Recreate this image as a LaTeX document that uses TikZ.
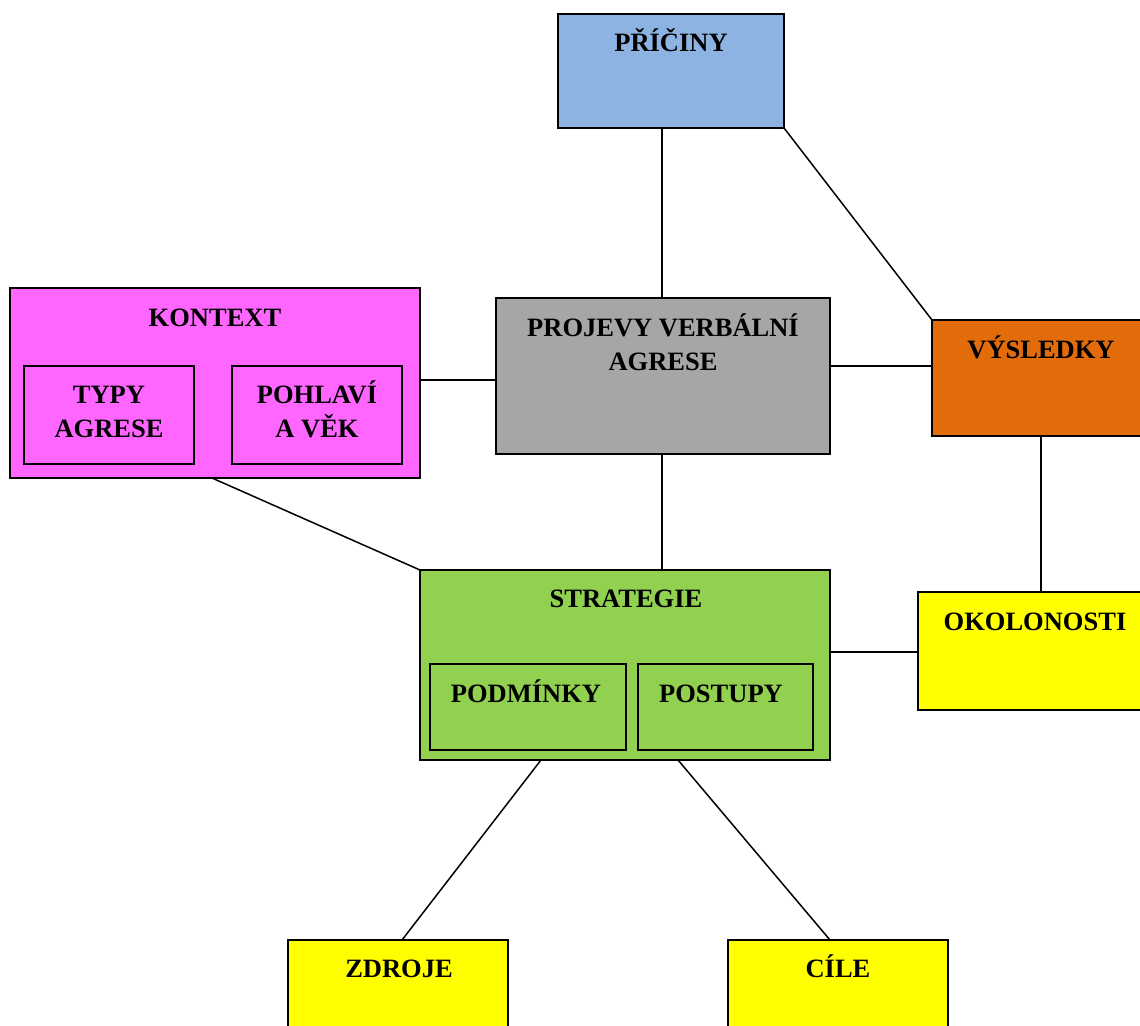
\documentclass[tikz,border=0pt]{standalone}
\usepackage{fontspec}
\setmainfont{Liberation Serif}
\definecolor{cblue}{HTML}{8DB3E2}
\definecolor{cgray}{HTML}{A6A6A6}
\definecolor{cpink}{HTML}{FF66FF}
\definecolor{corange}{HTML}{E36C0A}
\definecolor{cgreen}{HTML}{92D050}
\definecolor{cyellow}{HTML}{FFFF00}
\begin{document}
\begin{tikzpicture}[x=1pt,y=-1pt,
  box/.style={draw=black,line width=1.5pt,anchor=north west,inner sep=0pt,outer sep=0pt},
  lbl/.style={anchor=base,align=center,inner sep=0pt,font=\bfseries\fontsize{26.5}{34}\selectfont},
  conn/.style={line width=1.5pt}]
\useasboundingbox (0,0) rectangle (1140,1025);
\clip (0,0) rectangle (1140,1025);
% boxes
\node[box,fill=cblue,minimum width=226pt,minimum height=114pt] (pric) at (558,14) {};
\node[box,fill=cgray,minimum width=334pt,minimum height=156pt] (proj) at (496,298) {};
\node[box,fill=cpink,minimum width=410pt,minimum height=190pt] (kont) at (10,288) {};
\node[box,fill=cpink,minimum width=170pt,minimum height=98pt] (typy) at (24,366) {};
\node[box,fill=cpink,minimum width=170pt,minimum height=98pt] (pohl) at (232,366) {};
\node[box,fill=corange,minimum width=218pt,minimum height=116pt] (vysl) at (932,320) {};
\node[box,fill=cyellow,minimum width=234pt,minimum height=118pt] (okol) at (918,592) {};
\node[box,fill=cgreen,minimum width=410pt,minimum height=190pt] (strat) at (420,570) {};
\node[box,fill=cgreen,minimum width=196pt,minimum height=86pt] (podm) at (430,664) {};
\node[box,fill=cgreen,minimum width=175pt,minimum height=86pt] (post) at (638,664) {};
\node[box,fill=cyellow,minimum width=220pt,minimum height=110pt] (zdro) at (288,940) {};
\node[box,fill=cyellow,minimum width=220pt,minimum height=110pt] (cile) at (728,940) {};
% labels (multi-line labels are placed at the baseline of their last line)
\node[lbl] (pricT) at (671,52) {PŘÍČINY};
\node[lbl] (projT) at (663,370) {PROJEVY VERBÁLNÍ\\AGRESE};
\node[lbl] (kontT) at (215,326) {KONTEXT};
\node[lbl] (typyT) at (109,437) {TYPY\\AGRESE};
\node[lbl] (pohlT) at (317,437) {POHLAVÍ\\A VĚK};
\node[lbl] (vyslT) at (1041,358) {VÝSLEDKY};
\node[lbl] (okolT) at (1035,630) {OKOLONOSTI};
\node[lbl] (stratT) at (626,607) {STRATEGIE};
\node[lbl] (podmT) at (526,702) {PODMÍNKY};
\node[lbl] (postT) at (721,702) {POSTUPY};
\node[lbl] (zdroT) at (399,977) {ZDROJE};
\node[lbl] (cileT) at (838,977) {CÍLE};
% connectors
\draw[conn] (pric.south -| 662,0) -- (proj.north -| 662,0);
\draw[conn] (pric.south east) -- (vysl.north west);
\draw[conn] (kont.east |- 0,380) -- (proj.west |- 0,380);
\draw[conn] (proj.east |- 0,366) -- (vysl.west |- 0,366);
\draw[conn] (proj.south -| 662,0) -- (strat.north -| 662,0);
\draw[conn] (kont.south -| 212,0) -- (strat.north west);
\draw[conn] (vysl.south -| 1041,0) -- (okol.north -| 1041,0);
\draw[conn] (strat.east |- 0,652) -- (okol.west |- 0,652);
\draw[conn] (strat.south -| 541,0) -- (zdro.north -| 402,0);
\draw[conn] (strat.south -| 678,0) -- (cile.north -| 830,0);
\end{tikzpicture}
\end{document}
